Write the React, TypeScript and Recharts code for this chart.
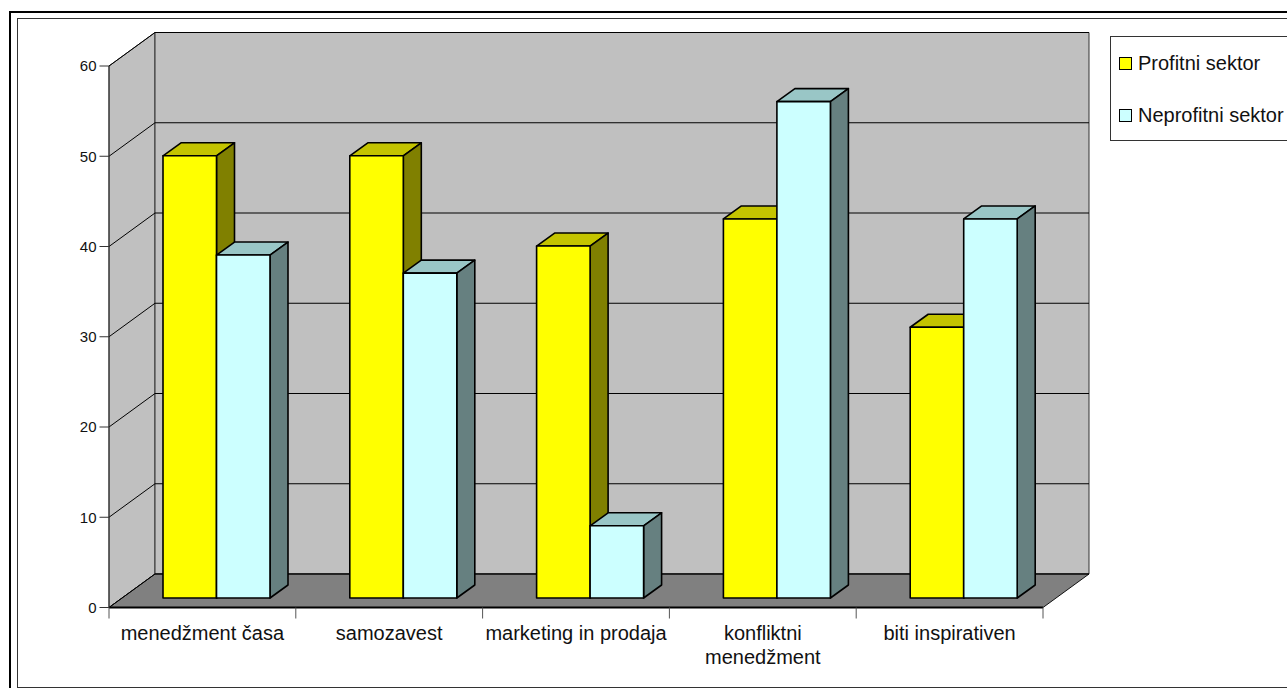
import { BarChart, Bar, XAxis, YAxis, CartesianGrid, Legend, usePlotArea } from 'recharts';

const categories = ['menedžment časa', 'samozavest', 'marketing in prodaja', 'konfliktni menedžment', 'biti inspirativen'];
const profitni = [49, 49, 39, 42, 30];
const neprofitni = [38, 36, 8, 55, 42];
const yTicks = [0, 10, 20, 30, 40, 50, 60];

const data = categories.map((name, i) => ({ name, profitni: profitni[i], neprofitni: neprofitni[i] }));

const FONT = '"Liberation Sans", Arial, sans-serif';
// depth of the box the plot sits in, and of each column
const WALL_DX = 46;
const WALL_DY = -33.5;
const BAR_DX = 18;
const BAR_DY = -13;
const BAR_SHIFT_X = 14;
const BAR_SHIFT_Y = -9.5;

const pts = (p: number[][]) => p.map((q) => q.join(',')).join(' ');

// side wall, back wall and floor behind the columns
function Walls() {
  const plot = usePlotArea();
  if (!plot) return null;
  const l = plot.x;
  const r = plot.x + plot.width;
  const t = plot.y;
  const b = plot.y + plot.height;
  return (
    <g>
      <polygon
        points={pts([[l, t], [l + WALL_DX, t + WALL_DY], [l + WALL_DX, b + WALL_DY], [l, b]])}
        fill="#c0c0c0"
        stroke="#333"
      />
      <polygon
        points={pts([[l + WALL_DX, t + WALL_DY], [r + WALL_DX, t + WALL_DY], [r + WALL_DX, b + WALL_DY], [l + WALL_DX, b + WALL_DY]])}
        fill="#c0c0c0"
        stroke="#333"
      />
      <polygon
        points={pts([[l, b], [l + WALL_DX, b + WALL_DY], [r + WALL_DX, b + WALL_DY], [r, b]])}
        fill="#808080"
        stroke="#111"
      />
    </g>
  );
}

// each gridline runs up the side wall and then across the back wall;
// the grid is the lowest layer, so the walls go in with its first line
function GridLine(props: any) {
  const { x1, x2, y1, index } = props;
  return (
    <g key={`grid-${index}`}>
      {index === 0 && <Walls />}
      <polyline
        points={pts([[x1, y1], [x1 + WALL_DX, y1 + WALL_DY], [x2 + WALL_DX, y1 + WALL_DY]])}
        fill="none"
        stroke="#000"
        strokeWidth={1}
      />
    </g>
  );
}

function Column(props: any) {
  const { x, y, width, height, fill, top, side } = props;
  const fx = x + BAR_SHIFT_X;
  const fy = y + BAR_SHIFT_Y;
  const rx = fx + width;
  const by = fy + height;
  return (
    <g stroke="#000" strokeWidth={1.6} strokeLinejoin="round">
      <polygon points={pts([[fx, fy], [fx + BAR_DX, fy + BAR_DY], [rx + BAR_DX, fy + BAR_DY], [rx, fy]])} fill={top} />
      <polygon points={pts([[rx, fy], [rx + BAR_DX, fy + BAR_DY], [rx + BAR_DX, by + BAR_DY], [rx, by]])} fill={side} />
      <rect x={fx} y={fy} width={width} height={height} fill={fill} />
    </g>
  );
}

// tick marks sit on the category boundaries, not under the labels
function BandMarks({ x, index }: { x: number; index: number }) {
  const plot = usePlotArea();
  if (!plot) return null;
  const band = plot.width / categories.length;
  const y1 = plot.y + plot.height;
  const marks = index === categories.length - 1 ? [x - band / 2, x + band / 2] : [x - band / 2];
  return (
    <>
      {marks.map((mx) => (
        <line key={mx} x1={mx} x2={mx} y1={y1} y2={y1 + 11} stroke="#555" strokeWidth={1} />
      ))}
    </>
  );
}

function CategoryTick(props: any) {
  const { x, y, payload, index } = props;
  const value: string = payload.value;
  const lines = value === 'konfliktni menedžment' ? value.split(' ') : [value];
  return (
    <g>
      <BandMarks x={x} index={index} />
      <text x={x} y={y + 19} textAnchor="middle" fontFamily={FONT} fontSize={20} fill="#111">
        {lines.map((line, i) => (
          <tspan key={line} x={x} dy={i === 0 ? 0 : 24}>
            {line}
          </tspan>
        ))}
      </text>
    </g>
  );
}

function LegendBox({ payload }: any) {
  return (
    <div style={{ width: 190, height: 105, boxSizing: 'border-box', border: '1px solid #333', background: '#fff', fontFamily: FONT, fontSize: 20, color: '#111', position: 'relative' }}>
      {(payload ?? []).map((item: any, i: number) => (
        <div key={item.value} style={{ position: 'absolute', left: 8, top: 15 + i * 52, display: 'flex', alignItems: 'center', whiteSpace: 'nowrap' }}>
          <span style={{ width: 11, height: 11, border: '1.5px solid #000', background: item.color, marginRight: 6 }} />
          {item.value}
        </div>
      ))}
    </div>
  );
}

export default function App() {
  return (
    <div style={{ position: 'fixed', left: 0, top: 0, width: 1287, height: 688, overflow: 'hidden', background: '#fff' }}>
      <div style={{ position: 'absolute', left: 9, top: 11, width: 1400, height: 800, border: '2px solid #000' }} />
      <div style={{ position: 'absolute', left: 17, top: 18, width: 1400, height: 668, border: '1px solid #333' }} />
      <div style={{ position: 'absolute', left: 0, top: 0 }}>
        <BarChart
          width={1287}
          height={688}
          data={data}
          margin={{ top: 66, right: 244, bottom: 0, left: 0 }}
          barSize={53.5}
          barGap={0}
        >
          <CartesianGrid vertical={false} horizontal={GridLine} syncWithTicks />
          <XAxis
            dataKey="name"
            height={80.5}
            interval={0}
            tick={CategoryTick}
            tickSize={11}
            tickLine={false}
            axisLine={{ stroke: '#000', strokeWidth: 2 }}
          />
          <YAxis
            width={109}
            domain={[0, 60]}
            ticks={yTicks}
            interval={0}
            tickSize={9.5}
            tickMargin={3}
            tick={{ fontFamily: FONT, fontSize: 15, fill: '#111' }}
            tickLine={{ stroke: '#333' }}
            axisLine={{ stroke: '#333' }}
          />
          <Legend
            layout="vertical"
            align="center"
            verticalAlign="middle"
            itemSorter={null}
            wrapperStyle={{ left: 1110, top: 36, width: 190 }}
            content={<LegendBox />}
          />
          <Bar
            dataKey="profitni"
            name="Profitni sektor"
            fill="#ffff00"
            isAnimationActive={false}
            shape={(p: any) => <Column {...p} top="#c4c400" side="#808000" />}
          />
          <Bar
            dataKey="neprofitni"
            name="Neprofitni sektor"
            fill="#ccffff"
            isAnimationActive={false}
            shape={(p: any) => <Column {...p} top="#99c6c6" side="#668080" />}
          />
        </BarChart>
      </div>
    </div>
  );
}
